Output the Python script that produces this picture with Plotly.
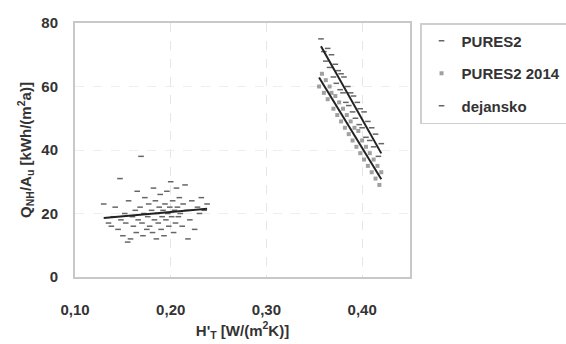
import numpy as np
import plotly.graph_objects as go

# dejansko (left cluster)
dej_x = [0.130, 0.135, 0.138, 0.140, 0.142, 0.145, 0.147, 0.148, 0.150, 0.152, 0.153, 0.155, 0.156, 0.158,
         0.160, 0.161, 0.163, 0.164, 0.165, 0.166, 0.168, 0.169, 0.170, 0.171, 0.172, 0.173, 0.175, 0.176,
         0.177, 0.178, 0.180, 0.181, 0.182, 0.183, 0.184, 0.185, 0.186, 0.187, 0.188, 0.189, 0.190, 0.191,
         0.192, 0.193, 0.194, 0.195, 0.196, 0.197, 0.198, 0.199, 0.200, 0.201, 0.202, 0.203, 0.204, 0.205,
         0.206, 0.207, 0.208, 0.209, 0.210, 0.212, 0.213, 0.215, 0.217, 0.218, 0.220, 0.222, 0.225, 0.228,
         0.230, 0.232, 0.235, 0.238]
dej_y = [23, 17, 16, 19, 22, 15, 31, 18, 13, 20, 17, 11, 24, 12,
         19, 16, 21, 14, 27, 18, 22, 38, 17, 13, 20, 25, 15, 19,
         23, 16, 21, 14, 28, 18, 24, 12, 20, 17, 22, 26, 15, 19,
         21, 13, 23, 18, 27, 20, 16, 22, 30, 19, 24, 14, 21, 17,
         28, 22, 19, 25, 20, 16, 23, 29, 21, 12, 18, 24, 15, 22,
         20, 25, 21, 23]

# PURES2 (upper right band)
p_x = [0.357, 0.360, 0.362, 0.364, 0.366, 0.368, 0.370, 0.372, 0.373, 0.375, 0.377, 0.378, 0.380, 0.381,
       0.383, 0.385, 0.386, 0.388, 0.390, 0.391, 0.393, 0.395, 0.397, 0.398, 0.400, 0.402, 0.404, 0.406,
       0.408, 0.410, 0.412, 0.414, 0.417, 0.420]
p_y = [75, 71, 68, 72, 66, 70, 63, 67, 61, 65, 59, 64, 58, 63,
       55, 60, 54, 58, 52, 57, 50, 55, 48, 53, 47, 52, 44, 49,
       43, 47, 41, 45, 38, 42]

# PURES2 2014 (lower right band)
p14_x = [0.355, 0.358, 0.360, 0.362, 0.364, 0.366, 0.368, 0.370, 0.372, 0.374, 0.376, 0.378, 0.380, 0.382,
         0.384, 0.386, 0.388, 0.390, 0.392, 0.394, 0.396, 0.398, 0.400, 0.402, 0.404, 0.406, 0.408, 0.410,
         0.412, 0.414, 0.416, 0.418, 0.420]
p14_y = [60, 64, 58, 62, 56, 60, 58, 53, 57, 51, 55, 49, 53, 47,
         51, 45, 49, 43, 47, 41, 46, 39, 43, 37, 41, 35, 39, 33,
         37, 31, 35, 29, 33]

x_ticks = [0.10, 0.20, 0.30, 0.40]
y_ticks = [0, 20, 40, 60, 80]

fig = go.Figure()

def trend(xs, ys):
    k, b = np.polyfit(xs, ys, 1)
    xx = np.array([min(xs), max(xs)])
    return xx, k * xx + b

fig.add_trace(go.Scatter(x=p_x, y=p_y, mode="markers", name="PURES2", legendgroup="a",
                         marker=dict(symbol="line-ew", size=4, line=dict(width=1.5, color="#666"))))
fig.add_trace(go.Scatter(x=p14_x, y=p14_y, mode="markers", name="PURES2 2014", legendgroup="b",
                         marker=dict(symbol="square", size=4, color="#8f8f8f", opacity=0.85)))
fig.add_trace(go.Scatter(x=dej_x, y=dej_y, mode="markers", name="dejansko", legendgroup="c",
                         marker=dict(symbol="line-ew", size=4, line=dict(width=1.5, color="#666"))))

for xs, ys in [(p_x, p_y), (p14_x, p14_y), (dej_x, dej_y)]:
    tx, ty = trend(xs, ys)
    fig.add_trace(go.Scatter(x=tx, y=ty, mode="lines", showlegend=False,
                             line=dict(color="#222", width=2)))

fam = "Liberation Sans, Arial, sans-serif"

fig.update_layout(
    width=566, height=344,
    margin=dict(l=75, r=156, t=23, b=67, autoexpand=False),
    paper_bgcolor="white", plot_bgcolor="white",
    separators=", ",
    font=dict(family=fam, color="#333"),
    showlegend=True,
    legend=dict(x=1.03, y=1.0, xanchor="left", yanchor="top",
                bordercolor="#cfcfcf", borderwidth=1.5,
                font=dict(family=fam, size=15, color="#333", weight="bold"),
                itemsizing="trace", itemwidth=30, tracegroupgap=10),
    xaxis=dict(range=[0.10, 0.45], tickvals=x_ticks, tickformat=".2f",
               showgrid=True, gridcolor="#e6e6e6", griddash="dash", gridwidth=1,
               showline=True, linecolor="#c8c8c8", linewidth=2, mirror=True,
               zeroline=False, ticks="", ticklen=0, ticklabelstandoff=18,
               tickfont=dict(family=fam, size=15, color="#333", weight="bold"),
               title=dict(text="H'<sub>T</sub> [W/(m<sup>2</sup>K)]", standoff=8,
                          font=dict(family=fam, size=15, color="#333", weight="bold"))),
    yaxis=dict(range=[0, 80], tickvals=y_ticks,
               showgrid=True, gridcolor="#eeeeee", griddash="dash", gridwidth=1,
               showline=True, linecolor="#c8c8c8", linewidth=2, mirror=True,
               zeroline=False, ticks="", ticklen=0, ticklabelstandoff=12,
               tickfont=dict(family=fam, size=15, color="#333", weight="bold"),
               title=dict(text="Q<sub>NH</sub>/A<sub>u</sub> [kWh/(m<sup>2</sup>a)]", standoff=6,
                          font=dict(family=fam, size=15, color="#333", weight="bold"))),
)

fig.write_html("out.html")
